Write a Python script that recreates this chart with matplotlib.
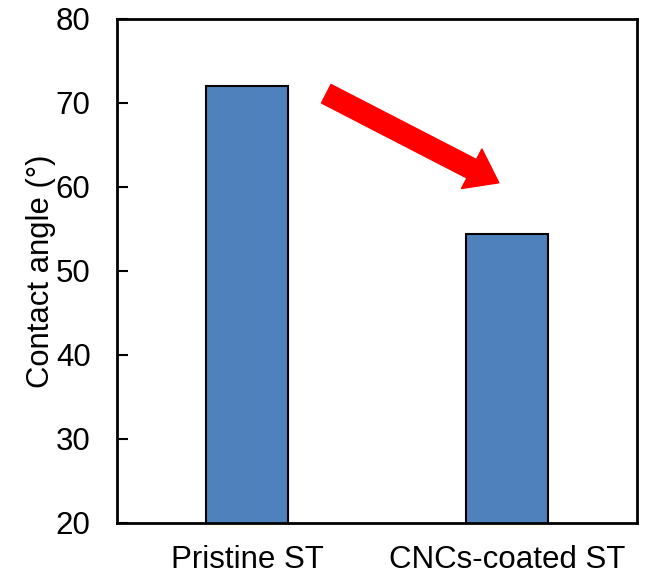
import matplotlib
matplotlib.use("Agg")
import matplotlib.pyplot as plt

categories = ["Pristine ST", "CNCs-coated ST"]
angles = [72.0, 54.4]
yticks = [20, 30, 40, 50, 60, 70, 80]

plt.rcParams['font.family'] = ['Liberation Sans', 'DejaVu Sans']

fig = plt.figure(figsize=(6.45, 5.77), dpi=100)
ax = fig.add_axes([0.1814, 0.0936, 0.806, 0.8735])

x = range(len(categories))
ax.bar(x, angles, width=0.315, color="#4F81BD", edgecolor="black", linewidth=1.5, zorder=2)

ax.set_xlim(-0.5, 1.5)
ax.set_ylim(20, 80)
ax.set_yticks(yticks)
ax.set_xticks(list(x))
ax.set_xticklabels(categories)
ax.tick_params(axis="y", direction="in", length=8, width=1.5, labelsize=22.5, pad=19)
ax.tick_params(axis="x", length=0, labelsize=22.5, pad=16)
for s in ax.spines.values():
    s.set_linewidth(2)

ax.set_ylabel("Contact angle (°)", fontsize=22.3)
ax.yaxis.set_label_coords(-0.118, 0.5)

# red arrow showing the drop
ax.annotate("", xy=(0.969, 60.5), xytext=(0.305, 71.1),
            arrowprops=dict(arrowstyle="simple,head_length=1.1,head_width=1.6,tail_width=0.75",
                            color="red", mutation_scale=20, shrinkA=0, shrinkB=0))

fig.savefig("out.png", dpi=100)
